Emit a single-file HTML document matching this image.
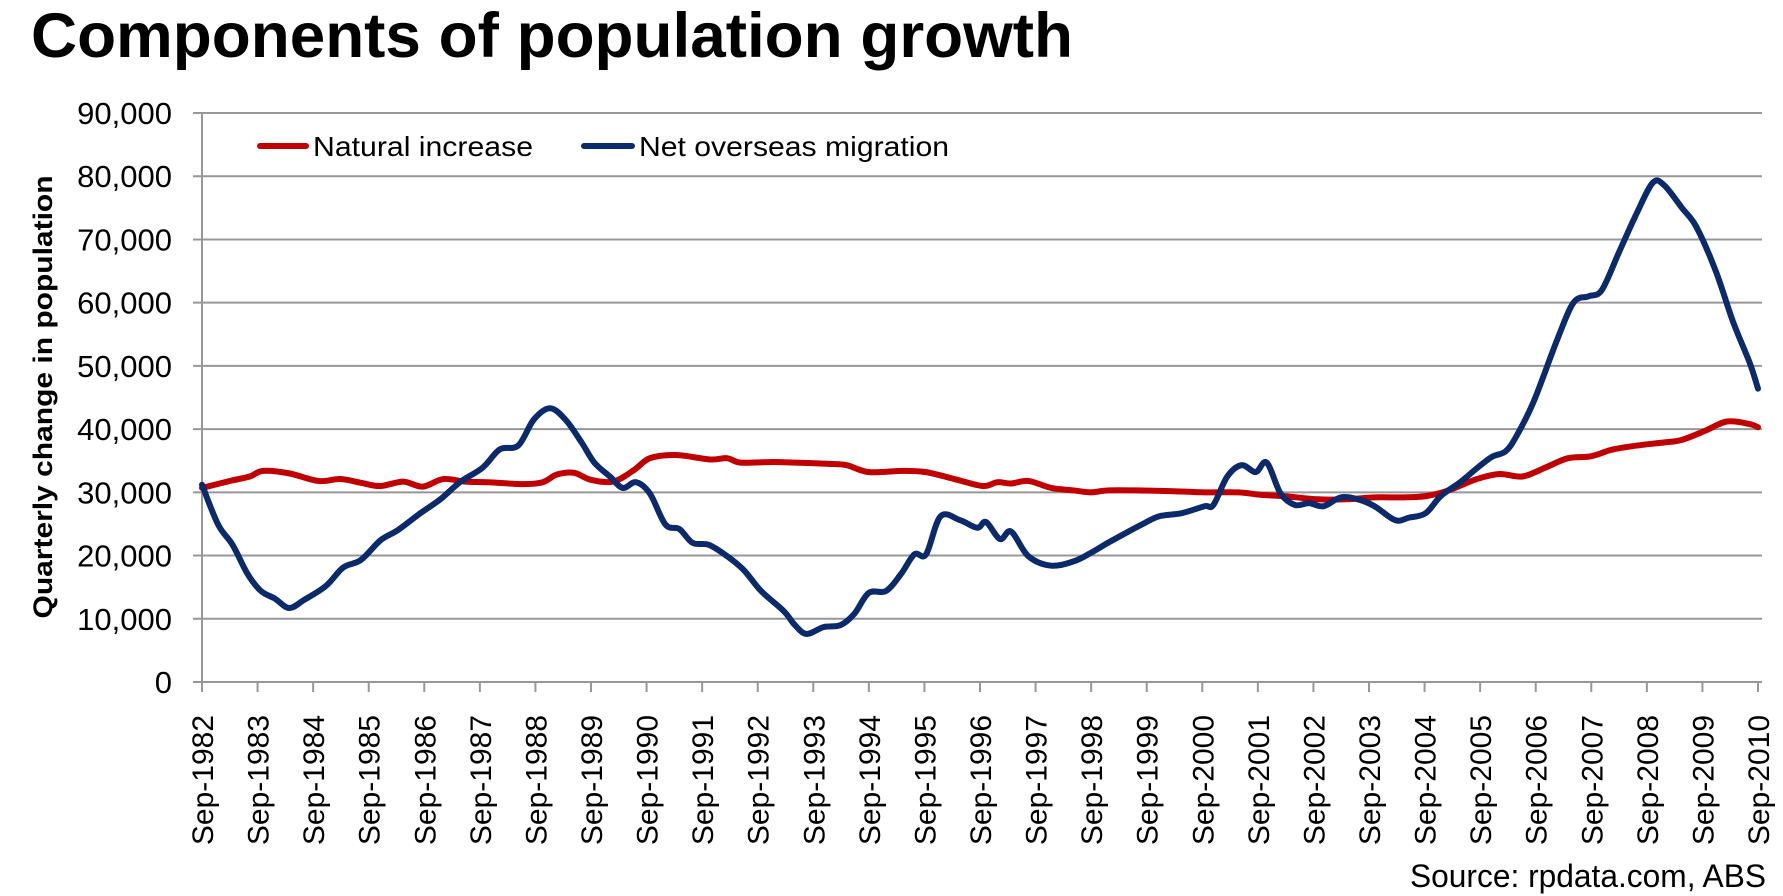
<!DOCTYPE html>
<html><head><meta charset="utf-8"><style>
html,body{margin:0;padding:0;background:#fff;width:1783px;height:896px;overflow:hidden}
svg{display:block}
</style></head><body>
<svg id="chart" width="1783" height="896" viewBox="0 0 1783 896" xmlns="http://www.w3.org/2000/svg">
<text x="31" y="57" font-family="Liberation Sans, Arial, sans-serif" font-weight="bold" font-size="63" textLength="1042" lengthAdjust="spacingAndGlyphs">Components of population growth</text>
<g id="grid"></g><g id="yticks"></g><g id="xticks"></g>
<text transform="translate(52,397) rotate(-90)" text-anchor="middle" font-family="Liberation Sans, Arial, sans-serif" font-weight="bold" font-size="27" textLength="443" lengthAdjust="spacingAndGlyphs">Quarterly change in population</text>
<g id="series"></g>
<g>
<line x1="260" y1="146" x2="306" y2="146" stroke="#C00000" stroke-width="6" stroke-linecap="round"/>
<text x="313" y="156" font-family="Liberation Sans, Arial, sans-serif" font-size="28" textLength="220" lengthAdjust="spacingAndGlyphs">Natural increase</text>
<line x1="584" y1="146" x2="632" y2="146" stroke="#0A2A6B" stroke-width="6" stroke-linecap="round"/>
<text x="639" y="156" font-family="Liberation Sans, Arial, sans-serif" font-size="28" textLength="310" lengthAdjust="spacingAndGlyphs">Net overseas migration</text>
</g>
<text x="1766" y="887" text-anchor="end" font-family="Liberation Sans, Arial, sans-serif" font-size="32" textLength="356" lengthAdjust="spacingAndGlyphs">Source: rpdata.com,  ABS</text>
</svg>
<script>
const yTicks=[0,10000,20000,30000,40000,50000,60000,70000,80000,90000];
const xTickYears=[1982,1983,1984,1985,1986,1987,1988,1989,1990,1991,1992,1993,1994,1995,1996,1997,1998,1999,2000,2001,2002,2003,2004,2005,2006,2007,2008,2009,2010];
const nomDates=[1982.75,1983.04,1983.30,1983.57,1983.81,1984.06,1984.32,1984.59,1984.98,1985.29,1985.61,1985.96,1986.27,1986.68,1987.04,1987.39,1987.80,1988.11,1988.44,1988.72,1989.01,1989.29,1989.58,1989.81,1990.09,1990.32,1990.56,1990.81,1991.09,1991.34,1991.58,1991.87,1992.20,1992.50,1992.81,1993.22,1993.42,1993.63,1993.94,1994.24,1994.49,1994.75,1995.06,1995.33,1995.57,1995.78,1996.04,1996.39,1996.70,1996.86,1997.11,1997.31,1997.62,1998.03,1998.44,1998.74,1999.05,1999.36,1999.66,1999.97,2000.38,2000.79,2000.95,2001.20,2001.46,2001.71,2001.91,2002.16,2002.42,2002.67,2002.93,2003.24,2003.55,2003.85,2004.22,2004.47,2004.77,2005.04,2005.39,2005.69,2005.96,2006.21,2006.41,2006.72,2007.13,2007.43,2007.70,2007.94,2008.25,2008.56,2008.86,2009.07,2009.38,2009.64,2009.99,2010.30,2010.60,2010.75];
const nomValues=[31200,24900,21700,17100,14400,13200,11700,13000,15200,18100,19300,22400,24000,26700,28900,31600,33900,36800,37400,41500,43300,41500,37900,34700,32500,30700,31600,29800,24900,24200,22000,21700,19900,17700,14400,11200,9000,7600,8700,9000,10800,14100,14400,17100,20200,20200,26200,25600,24400,25300,22600,23800,19900,18400,19100,20400,22000,23500,24900,26200,26700,27800,28000,32500,34300,33200,34700,29800,28000,28300,27800,29200,28900,27800,25600,26000,26700,29400,31600,33800,35600,36500,39000,44500,54000,60000,61000,62000,68000,74000,79000,78500,75000,72000,65000,57000,50500,46400];
const niDates=[1982.75,1983.30,1983.61,1983.85,1984.32,1984.84,1985.24,1985.61,1985.96,1986.37,1986.72,1987.09,1987.49,1987.90,1988.52,1988.88,1989.13,1989.44,1989.74,1990.15,1990.52,1990.81,1991.28,1991.89,1992.20,1992.44,1993.02,1993.42,1994.04,1994.35,1994.75,1995.37,1995.78,1996.29,1996.80,1997.06,1997.31,1997.62,1998.03,1998.44,1998.74,1999.05,1999.56,2000.17,2000.79,2001.40,2001.81,2002.22,2002.83,2003.34,2003.85,2004.37,2004.77,2005.18,2005.69,2006.10,2006.51,2006.92,2007.33,2007.74,2008.15,2008.66,2009.07,2009.38,2009.79,2010.19,2010.60,2010.75];
const niValues=[30700,31900,32500,33400,33000,31800,32100,31500,31000,31700,30900,32100,31700,31600,31300,31600,32800,33100,32000,31700,33500,35400,35900,35200,35400,34700,34800,34700,34500,34300,33200,33400,33200,32100,31000,31600,31400,31800,30700,30300,30000,30300,30300,30200,30000,30000,29600,29400,28900,28900,29200,29200,29400,30300,32100,32900,32500,33900,35400,35700,36800,37500,37900,38300,39700,41200,40800,40300];
const NS="http://www.w3.org/2000/svg";
const X0=202,X1=1758,Y0=682,Y1=113;
function xs(yr){return X0+(yr-1982.75)*(X1-X0)/28;}
function ys(v){return Y0-(v/90000)*(Y0-Y1);}
function mk(tag,attrs,parent){const e=document.createElementNS(NS,tag);for(const k in attrs)e.setAttribute(k,attrs[k]);parent.appendChild(e);return e;}
const grid=document.getElementById('grid'),yt=document.getElementById('yticks'),xt=document.getElementById('xticks'),ser=document.getElementById('series');
yTicks.forEach(v=>{
  const l=mk('line',{x1:193,x2:1762,y1:ys(v),y2:ys(v),stroke:'#979797','stroke-width':2},grid);
  
  
  const t=mk('text',{x:172,y:ys(v)+11,'text-anchor':'end','font-family':'Liberation Sans, Arial, sans-serif','font-size':31},yt);
  t.textContent=v===0?'0':v.toLocaleString('en-US');
  
  
});
const ax=mk('line',{x1:X0,x2:X0,y1:Y1,y2:692,stroke:'#979797','stroke-width':2},grid);


xTickYears.forEach(yr=>{
  const x=xs(yr+0.75);
  const tk=mk('line',{x1:x,x2:x,y1:Y0,y2:692,stroke:'#979797','stroke-width':2},xt);
  
  
  const t=mk('text',{transform:'translate('+(x+11)+',715) rotate(-90)','text-anchor':'end','font-family':'Liberation Sans, Arial, sans-serif','font-size':30},xt);
  t.textContent='Sep-'+yr;
  
  
});
function pathFor(d,v){
  const p=d.map((yr,i)=>[xs(yr),ys(v[i])]);
  let s='M'+p[0][0]+','+p[0][1];
  for(let i=0;i<p.length-1;i++){
    const a=p[Math.max(0,i-1)],b=p[i],c=p[i+1],e=p[Math.min(p.length-1,i+2)];
    const c1=[b[0]+(c[0]-a[0])/6,b[1]+(c[1]-a[1])/6],c2=[c[0]-(e[0]-b[0])/6,c[1]-(e[1]-b[1])/6];
    s+=' C'+c1[0]+','+c1[1]+' '+c2[0]+','+c2[1]+' '+c[0]+','+c[1];
  }
  return s;
}
const ni=mk('path',{d:pathFor(niDates,niValues),fill:'none',stroke:'#C00000','stroke-width':6,'stroke-linejoin':'round','stroke-linecap':'round'},ser);


const nom=mk('path',{d:pathFor(nomDates,nomValues),fill:'none',stroke:'#0A2A6B','stroke-width':6,'stroke-linejoin':'round','stroke-linecap':'round'},ser);


</script>
</body></html>
